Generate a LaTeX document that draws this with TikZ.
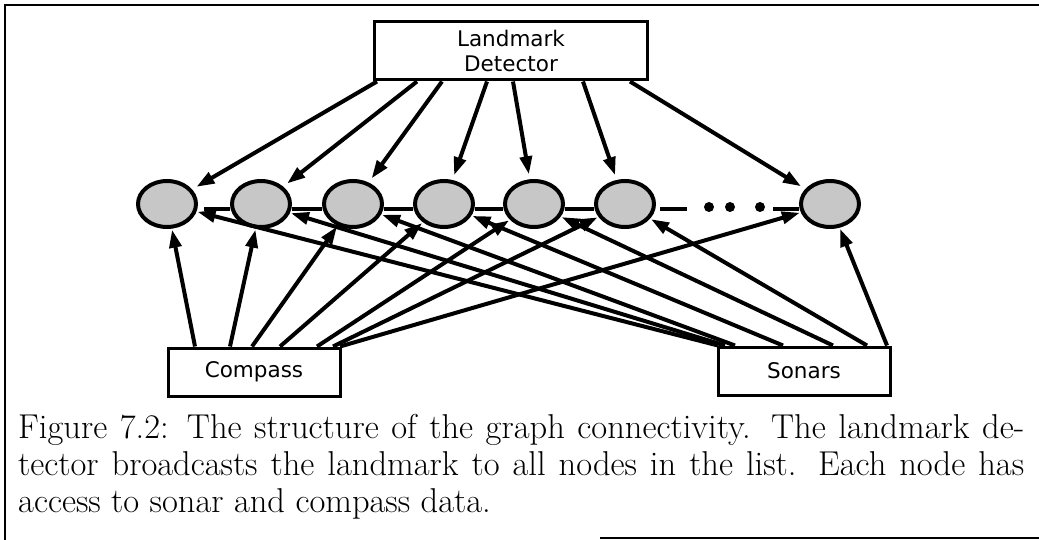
\documentclass[tikz,border=0pt]{standalone}
\usepackage{fontspec}
\newfontfamily\boxfont{DejaVu Sans}
\usetikzlibrary{arrows.meta,shapes.geometric}

\begin{document}
\begin{tikzpicture}[x=1pt,y=-1pt]
\tikzstyle{unit} = [ellipse, draw, line width=4pt, fill=black!22, minimum width=58pt, minimum height=46pt, inner sep=0pt]
\tikzstyle{module} = [draw, line width=3pt, font=\boxfont\fontsize{21.5}{25}\selectfont, align=center, inner sep=0pt]
\tikzstyle{link} = [line width=4pt, -{Triangle[length=18pt,width=12pt]}]
\tikzstyle{chain} = [line width=3.5pt]
\useasboundingbox (0,0) rectangle (1039,540);

% frame of the figure
\draw[line width=2.5pt] (5,540) -- (5,5) -- (1039,5);
\draw[line width=1.5pt] (600,538) -- (1039,538);

\node[module, minimum width=273pt, minimum height=58pt] (ld) at (511,51) {Landmark\\Detector};
\node[module, minimum width=172pt, minimum height=48pt] (compass) at (254,372) {Compass};
\node[module, minimum width=172pt, minimum height=48pt] (sonars) at (804,371) {Sonars};

% the list of nodes
\foreach \n/\x in {1/167,2/261,3/353,4/444,5/534,6/625,7/830}
    \node[unit] (e\n) at (\x,204) {};

\draw[chain] ([xshift=6pt,yshift=-5pt]e1.east) -- ([yshift=-5pt]e2.west);
\foreach \a/\b in {2/3,3/4,4/5,5/6}
    \draw[chain] ([yshift=-5pt]e\a.east) -- ([yshift=-5pt]e\b.west);
\draw[chain] ([xshift=4pt,yshift=-5pt]e6.east) -- ([xshift=31pt,yshift=-5pt]e6.east);
\foreach \dx in {53,74,104}
    \fill ([xshift=\dx pt,yshift=-3pt]e6.east) circle (5pt);
\draw[chain] ([xshift=-26pt,yshift=-5pt]e7.west) -- ([yshift=-5pt]e7.west);

% landmark broadcast
\foreach \n/\dx in {1/-134,2/-94,3/-69,4/-24,5/2,6/72,7/119}
    \draw[link, shorten >=5pt] ([xshift=\dx pt]ld.south) -- (e\n);

% compass data
\foreach \n/\dx in {1/-59,2/-24,3/-2,4/26,5/63,6/79,7/86}
    \draw[link, shorten >=1pt] ([xshift=\dx pt]compass.north) -- (e\n);

% sonar data
\foreach \n/\dx in {1/-86,2/-79,3/-69,4/-21,5/29,6/63,7/83}
    \draw[link, shorten >=1pt] ([xshift=\dx pt]sonars.north) -- (e\n);

\node[anchor=north west, align=left, inner sep=0pt, font=\fontsize{34.5}{37}\selectfont] (cap) at (18,414)
    {\makebox[1006pt][s]{Figure 7.2: The structure of the graph connectivity. The landmark de-}\\
     \makebox[1006pt][s]{tector broadcasts the landmark to all nodes in the list. Each node has}\\
     access to sonar and compass data.};
\end{tikzpicture}
\end{document}
